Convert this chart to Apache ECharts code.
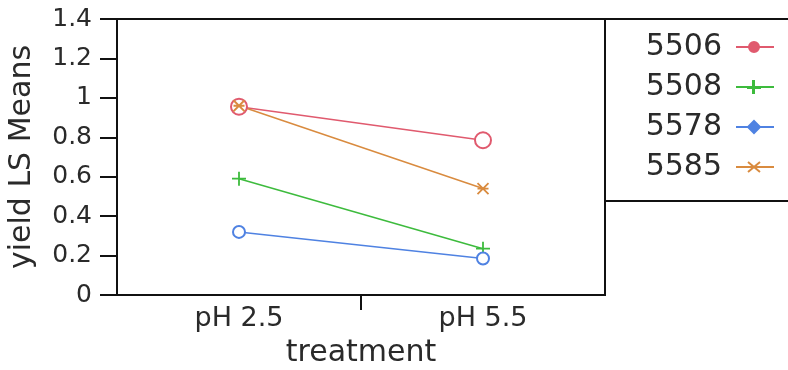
<!DOCTYPE html>
<html>
<head>
<meta charset="utf-8">
<script src="https://cdn.jsdelivr.net/npm/echarts@6/dist/echarts.min.js"></script>
<style>
  html, body { margin: 0; padding: 0; background: #fff; }
  #chart { width: 788px; height: 370px; }
</style>
</head>
<body>
<div id="chart"></div>
<script>
const treatments = ['pH 2.5', 'pH 5.5']
const groups = ['5506', '5508', '5578', '5585']
const yield5506 = [0.955, 0.785]
const yield5508 = [0.59, 0.235]
const yield5578 = [0.32, 0.185]
const yield5585 = [0.96, 0.54]
const yTicks = [0, 0.2, 0.4, 0.6, 0.8, 1, 1.2, 1.4]

const colors = ['#e05a6e', '#3dbb3d', '#4f82e2', '#d98b3f']
const FONT = 'DejaVu Sans'
const INK = '#2a2a2a'

// plot markers
const plusPath = 'path://M0,-1L0,1M-1,0L1,0'
const starPath = 'path://M-1,-1L1,1M-1,1L1,-1M-1,0L1,0'

// legend icons: line + marker, all in a 38x16 box
const box = 'M0,0M38,16M0,8L38,8'
const legendIcons = [
  'path://' + box + 'M13,8A5,5 0 1 0 23,8A5,5 0 1 0 13,8Z',
  'path://' + box + 'M18,1L18,15M11,8L25,8M17,1L17,15M11,9L25,9',
  'path://' + box + 'M18,2L24,8L18,14L12,8Z',
  'path://' + box + 'M12,3L24,13M12,13L24,3M11,8L25,8'
]

const chart = echarts.init(document.getElementById('chart'))

function mkSeries(name, values, color, symbol, size) {
  return {
    name: name,
    type: 'line',
    data: values,
    symbol: symbol,
    symbolSize: size,
    showSymbol: true,
    lineStyle: { color: color, width: 1.5 },
    itemStyle: { color: color, borderColor: color, borderWidth: 1.8 },
    emphasis: { disabled: true },
    z: 3
  }
}

const option = {
  animation: false,
  textStyle: { fontFamily: FONT },
  grid: {
    left: 117, top: 19, width: 488, height: 276,
    containLabel: false, outerBoundsMode: 'none',
    show: true, borderColor: '#111', borderWidth: 2
  },
  legend: {
    orient: 'vertical',
    right: 13,
    top: 32,
    padding: 0,
    align: 'right',
    itemWidth: 38,
    itemHeight: 16,
    itemGap: 10,
    textStyle: { fontSize: 30, lineHeight: 30, color: INK, fontFamily: FONT, padding: [0, 9, 0, 0] },
    data: groups.map((g, i) => ({
      name: g,
      icon: legendIcons[i],
      itemStyle: { color: colors[i], borderColor: colors[i], borderWidth: 2 }
    }))
  },
  xAxis: [
    {
      type: 'category',
      data: treatments,
      boundaryGap: true,
      name: 'treatment',
      nameLocation: 'middle',
      nameGap: 43,
      nameTextStyle: { fontSize: 30, color: INK },
      axisLine: { lineStyle: { color: '#111', width: 2 } },
      axisTick: { show: false },
      axisLabel: { fontSize: 27, color: INK, margin: 10 },
      splitLine: { show: false }
    },
    {
      // only used for the single tick between the two treatments
      type: 'value',
      position: 'bottom',
      min: 0,
      max: 2,
      interval: 1,
      axisLine: { show: false },
      axisLabel: { show: false },
      splitLine: { show: false },
      axisTick: { show: true, length: 15, customValues: [1], lineStyle: { color: '#111', width: 2 } }
    }
  ],
  yAxis: {
    type: 'value',
    min: yTicks[0],
    max: yTicks[yTicks.length - 1],
    interval: 0.2,
    name: 'yield LS Means',
    nameLocation: 'middle',
    nameGap: 80,
    nameTextStyle: { fontSize: 30, color: INK },
    axisLine: { show: true, lineStyle: { color: '#111', width: 2 } },
    axisTick: { show: true, length: 17, lineStyle: { color: '#111', width: 2 } },
    axisLabel: { fontSize: 25, color: INK, margin: 25 },
    splitLine: { show: false }
  },
  graphic: [
    { type: 'line', shape: { x1: 605, y1: 19, x2: 790, y2: 19 }, style: { stroke: '#111', lineWidth: 2 } },
    { type: 'line', shape: { x1: 605, y1: 201, x2: 790, y2: 201 }, style: { stroke: '#111', lineWidth: 2 } }
  ],
  series: [
    mkSeries(groups[0], yield5506, colors[0], 'emptyCircle', 16),
    mkSeries(groups[1], yield5508, colors[1], plusPath, 14),
    mkSeries(groups[2], yield5578, colors[2], 'emptyCircle', 12),
    mkSeries(groups[3], yield5585, colors[3], starPath, 11)
  ]
}

chart.setOption(option)
</script>
</body>
</html>
